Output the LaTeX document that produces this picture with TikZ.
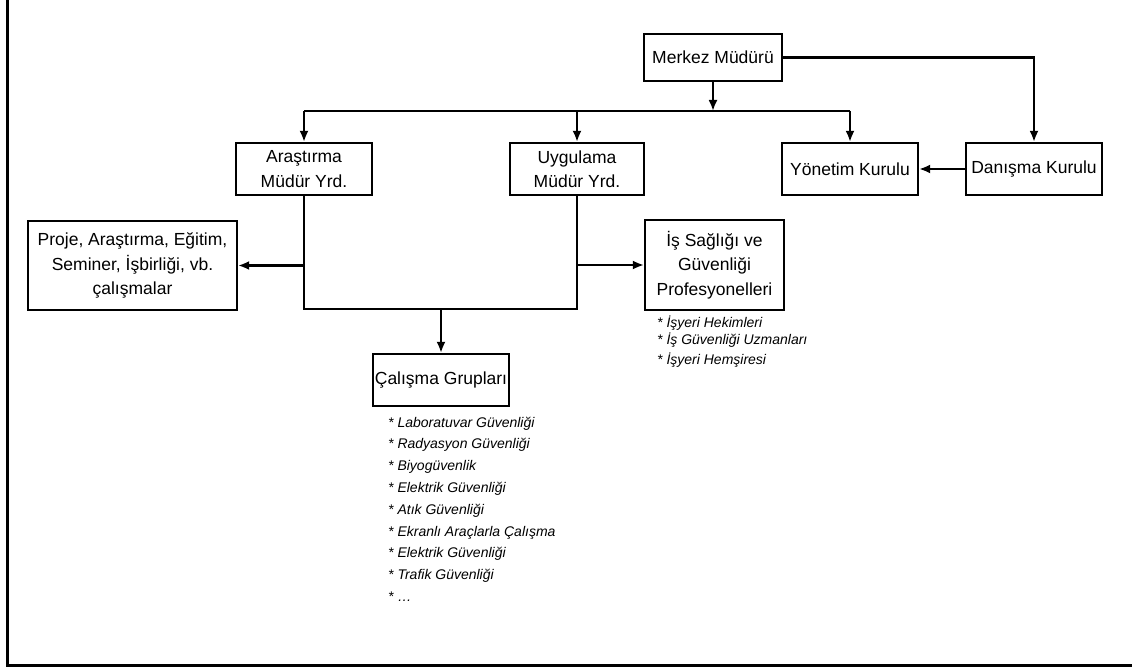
\documentclass[tikz,border=0pt]{standalone}
\usepackage{fontspec}
\setmainfont{Liberation Sans}
\usetikzlibrary{calc,arrows.meta}

\begin{document}
\begin{tikzpicture}[x=1pt,y=-1pt,
    box/.style={draw,line width=2.2pt,inner sep=2pt,align=center,
      font=\fontsize{17.5}{24.5}\selectfont},
    arr/.style={line width=2.2pt,-{Latex[length=11pt,width=9pt]}},
    link/.style={line width=2.2pt},
    item/.style={anchor=base west,inner sep=0pt,
      font=\fontsize{14}{16}\selectfont\itshape}]
  \useasboundingbox (0,0) rectangle (1132,668);

  %% Open frame round the chart
  \draw[line width=3pt] (7,0) -- (7,665) -- (1132,665);

  %% Boxes
  \node[box,minimum width=138pt,minimum height=47pt] (MERKEZ) at (713,57.5) {Merkez Müdürü};
  \node[box,minimum width=136pt,minimum height=52pt] (ARYRD) at (304,169) {Araştırma\\Müdür Yrd.};
  \node[box,minimum width=134pt,minimum height=52pt] (UGYRD) at (577,169) {Uygulama\\Müdür Yrd.};
  \node[box,minimum width=136pt,minimum height=52pt] (YONETIM) at (850,169) {Yönetim Kurulu};
  \node[box,minimum width=136pt,minimum height=52pt] (DANISMA) at (1034,169) {Danışma Kurulu};
  \node[box,minimum width=209pt,minimum height=89pt] (PROJE) at (132.5,265.5)
    {Proje, Araştırma, Eğitim,\\Seminer, İşbirliği, vb.\\çalışmalar};
  \node[box,minimum width=139pt,minimum height=90pt] (ISG) at (714.5,265)
    {İş Sağlığı ve\\Güvenliği\\Profesyonelleri};
  \node[box,minimum width=134pt,minimum height=52pt] (CALISMA) at (441,380) {Çalışma Grupları};

  %% Bus below the director
  \coordinate (BUSL) at (304,111);
  \coordinate (BUSR) at (850,111);
  \coordinate (BUSM) at (713,111);
  \draw[arr] (MERKEZ) -- (BUSM);
  \draw[link] (BUSL) -- (BUSR);
  \draw[arr] (BUSL) -- (ARYRD);
  \draw[arr] (UGYRD |- BUSL) -- (UGYRD);
  \draw[arr] (BUSR) -- (YONETIM);

  %% Boards on the right
  \draw[arr] (MERKEZ.east) -| (DANISMA);
  \draw[arr] (DANISMA) -- (YONETIM);

  %% Lower joint of the two assistants
  \coordinate (LOWL) at (304,309);
  \coordinate (LOWR) at (577,309);
  \coordinate (LOWM) at (441,309);
  \draw[link] (ARYRD) -- (LOWL) -- (LOWR) -- (UGYRD);
  \draw[arr] (ARYRD |- PROJE) -- (PROJE);
  \draw[arr] (UGYRD |- ISG) -- (ISG);
  \draw[arr] (LOWM) -- (CALISMA);

  %% Lists under the boxes
  \foreach \t/\y in {İşyeri Hekimleri/327,İş Güvenliği Uzmanları/344,İşyeri Hemşiresi/364}
  {
    \node[item] at (657,\y) {* \t};
  }
  \foreach \t [count=\i from 0] in {Laboratuvar Güvenliği,Radyasyon Güvenliği,Biyogüvenlik,
      Elektrik Güvenliği,Atık Güvenliği,Ekranlı Araçlarla Çalışma,Elektrik Güvenliği,
      Trafik Güvenliği,…}
  {
    \node[item] at (388,427+21.8*\i) {* \t};
  }
\end{tikzpicture}
\end{document}
